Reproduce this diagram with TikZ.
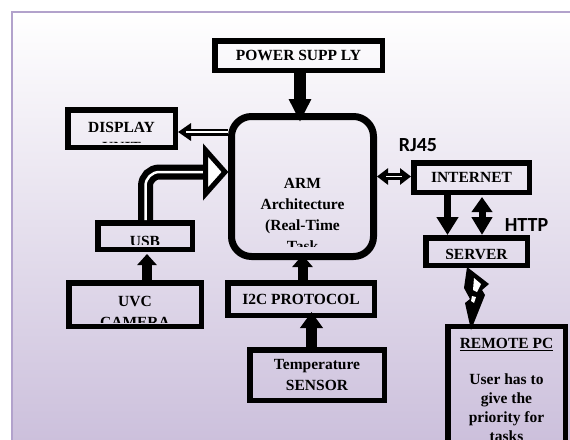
\documentclass[tikz,border=0pt]{standalone}
\usepackage{fontspec}
\setmainfont{Liberation Serif}
\newfontfamily\lblfont{Carlito}
\usetikzlibrary{arrows.meta,calc}
\definecolor{lavbot}{RGB}{204,192,220}
\definecolor{lavline}{RGB}{178,162,204}
\newcommand\bxfont{\fontsize{15.5}{20.5}\selectfont\bfseries}
\begin{document}
\begin{tikzpicture}[x=1pt,y=-1pt,
  box/.style={draw=black, line width=5.5pt, inner sep=0pt, align=center, font=\bxfont},
  txt/.style={inner sep=0pt, align=center, font=\bxfont},
  lbl/.style={inner sep=0pt, font=\lblfont\fontsize{20}{20}\selectfont\bfseries},
  dblshaft/.style={white, line width=1.6pt}
]
\clip (0,0) rectangle (570,439);
\fill[white] (0,0) rectangle (570,439);
\shade[top color=white, bottom color=lavbot] (12,12) rectangle (580,441);
\draw[lavline, line width=2.5pt] (12,445) -- (12,12) -- (580,12);

% boxes
\node[box, minimum width=167.5pt, minimum height=29.5pt] (power) at (298.5,55.5) {POWER SUPP LY};
\node[box, minimum width=107.5pt, minimum height=37.5pt] (display) at (121.5,128.5) {};
\node[box, minimum width=94.5pt, minimum height=26.5pt] (usb) at (145,236) {};
\node[box, minimum width=132.5pt, minimum height=43.5pt] (uvc) at (135,304.5) {};
\node[box, minimum width=146.5pt, minimum height=32.5pt] (i2c) at (301,299) {I2C PROTOCOL};
\node[box, minimum width=134.5pt, minimum height=50.5pt] (temp) at (317,375) {Temperature\\SENSOR};
\node[box, minimum width=115.5pt, minimum height=29.5pt] (internet) at (471.5,177.5) {INTERNET};
\node[box, minimum width=101.5pt, minimum height=27.5pt] (server) at (476.5,251.5) {};
\node[box, minimum width=117.5pt, minimum height=130pt] (remote) at (506.5,391.5) {};
\node[draw=black, line width=7pt, rounded corners=20pt, minimum width=142pt, minimum height=140pt, inner sep=0pt] (arm) at (302.5,186.5) {};

% clipped texts
\begin{scope}
\clip ([shift={(7,-14)}]arm.south west) rectangle ([shift={(-7,7)}]arm.north east);
\node[txt, font=\fontsize{15.5}{21}\selectfont\bfseries] (arm-t) at (302.5,215) {ARM\\Architecture\\(Real-Time\\Task};
\end{scope}
\begin{scope}
\clip ([shift={(5,-8)}]display.south west) rectangle ([shift={(-5,5)}]display.north east);
\node[txt] (display-t) at (121.5,137.5) {DISPLAY\\UNIT};
\end{scope}
\begin{scope}
\clip ([shift={(5,-8)}]usb.south west) rectangle ([shift={(-5,5)}]usb.north east);
\node[txt] (usb-t) at (145,241.5) {USB};
\end{scope}
\begin{scope}
\clip ([shift={(5,-7)}]uvc.south west) rectangle ([shift={(-5,5)}]uvc.north east);
\node[txt, font=\fontsize{15.5}{21.5}\selectfont\bfseries] (uvc-t) at (135,312) {UVC\\CAMERA};
\end{scope}
\begin{scope}
\clip ([shift={(5,-9.75)}]server.south west) rectangle ([shift={(-5,5)}]server.north east);
\node[txt] (server-t) at (476.5,254.5) {SERVER};
\end{scope}
\node[txt, anchor=north, font=\fontsize{15.5}{19}\selectfont\bfseries] (remote-t) at (506.5,338)
  {\underline{REMOTE PC}\\[17pt]User has to\\give the\\priority for\\tasks};

% power -> arm
\draw[line width=12pt, -{Triangle[width=21pt,length=23pt]}, shorten >=-9pt]
  ([xshift=1.5pt]power.south) -- ([xshift=1.5pt]power.south |- arm.north);

% arm -> display (double line)
\coordinate (dispend) at ([yshift=-3.5pt]display.east);
\draw[line width=7pt, -{Triangle[width=17pt,length=13pt]}] (arm.west |- dispend) -- (dispend);
\draw[dblshaft, shorten >=8pt] (arm.west |- dispend) -- (dispend);

% usb -> arm (big hollow arrow)
\coordinate (usbtip) at ([yshift=14.5pt]arm.west);
\draw[line width=15pt, rounded corners=14pt] ([xshift=0.5pt]usb.north) -- ([xshift=0.5pt]usb.north |- usbtip) -- ([xshift=-21pt]usbtip);
\draw[white, line width=2.5pt, rounded corners=14pt] ([xshift=0.5pt]usb.north) -- ([xshift=0.5pt]usb.north |- usbtip) -- ([xshift=-21pt]usbtip);
\draw[line width=5pt, fill=white, line join=miter] ([shift={(-22.5,-22)}]usbtip) -- ([xshift=-3pt]usbtip) -- ([shift={(-22.5,22)}]usbtip) -- cycle;

% camera -> usb
\draw[line width=10pt, -{Triangle[width=19pt,length=11pt]}, shorten >=2pt]
  ([xshift=2pt]usb.south |- uvc.north) -- ([xshift=2pt]usb.south);

% i2c -> arm
\draw[line width=10pt, -{Triangle[width=20pt,length=12pt]}, shorten >=-5pt]
  (i2c.north -| arm.south) -- (arm.south);

% temp -> i2c
\draw[line width=11pt, -{Triangle[width=22pt,length=16pt]}, shorten >=-6pt]
  ([xshift=10.5pt]i2c.south |- temp.north) -- ([xshift=10.5pt]i2c.south);

% arm <-> internet
\coordinate (netend) at ([yshift=1pt]internet.west);
\draw[line width=7pt, {Triangle[width=16pt,length=11pt]}-{Triangle[width=16pt,length=11pt]}] (arm.east |- netend) -- (netend);
\draw[dblshaft, shorten >=9pt, shorten <=9pt] (arm.east |- netend) -- (netend);

% internet -> server
\draw[line width=7pt, -{Triangle[width=21pt,length=18pt]}]
  ([xshift=-24pt]internet.south) -- ([xshift=-24pt]internet.south |- server.north);
\draw[line width=7pt, {Triangle[width=20pt,length=15pt]}-{Triangle[width=20pt,length=18pt]}]
  ([xshift=10.5pt,yshift=-2pt]internet.south) -- ([xshift=10.5pt]internet.south |- server.north);

% lightning server -> remote
\begin{scope}[shift={(server.south)}]
\fill[black] (-9.5,-1) -- (12.5,16) -- (5.5,22) -- (8.5,27) -- (-5.5,62) -- (-11.5,35) -- (-6.5,31) -- (-12.5,20) -- cycle;
\fill[white] (-2.5,10) -- (4.5,16) -- (0.5,24) -- (-3.5,22) -- cycle;
\fill[white] (-4.5,28) -- (-0.5,29) -- (-2.5,35) -- (-5.5,33) -- cycle;
\end{scope}

% labels
\node[lbl] (rj45) at (418,145) {RJ45};
\node[lbl] (http) at (526.5,225) {HTTP};
\end{tikzpicture}
\end{document}
